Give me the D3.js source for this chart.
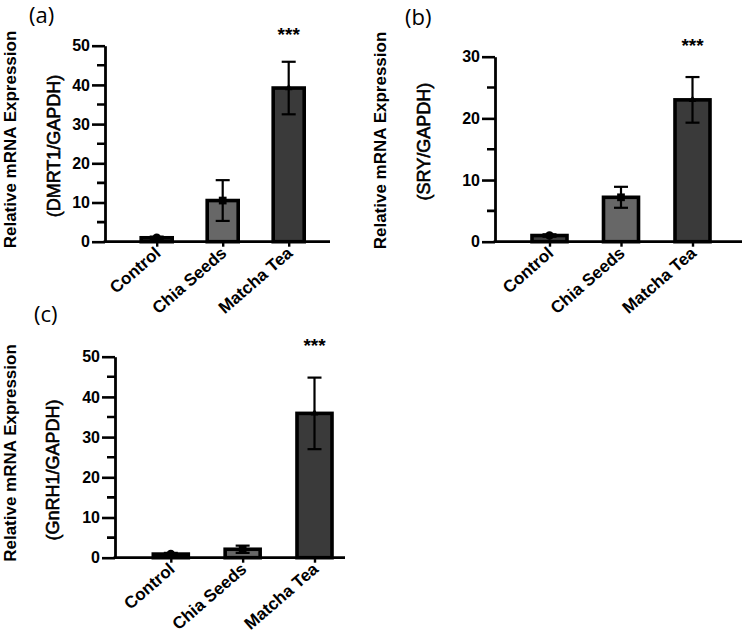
<!DOCTYPE html>
<html>
<head>
<meta charset="utf-8">
<script src="https://cdn.jsdelivr.net/npm/d3@7"></script>
<style>
  body { margin: 0; background: #fff; }
  svg { display: block; }
</style>
</head>
<body>
<div id="d3-container"></div>
<script>
// data
const categories = ["Control", "Chia Seeds", "Matcha Tea"];

const dmrt1Mean = [1.0, 10.5, 39.2];
const dmrt1Err  = [0.3, 5.2, 6.7];

const sryMean = [1.0, 7.2, 23.0];
const sryErr  = [0.2, 1.7, 3.7];

const gnrh1Mean = [0.9, 2.1, 35.9];
const gnrh1Err  = [0.3, 0.9, 8.9];

const ticks50 = [0, 10, 20, 30, 40, 50];
const ticks30 = [0, 10, 20, 30];
const minor50 = [5, 15, 25, 35, 45];
const minor30 = [5, 15, 25];

const fills = ["#3d3d3d", "#676767", "#3a3a3a"];
const markers = [d3.symbolCircle, d3.symbolSquare, d3.symbolTriangle];

const width = 750, height = 633;
const font = "'Liberation Sans', Arial, sans-serif";

const svg = d3.select("#d3-container")
  .append("svg")
  .attr("width", width)
  .attr("height", height);

// layout for each panel (pixel positions)
const panels = [
  { letter: "(a)", letterX: 29, letterY: 23,
    gene: "(DMRT1/GAPDH)", mean: dmrt1Mean, err: dmrt1Err, ticks: ticks50, minor: minor50,
    axisX: 105, y0: 241.7, yTop: 45.7, xEnd: 330, c0: 156.7, c2: 288.7, barW: 31,
    t1X: 16, t1Y: 139.5, t2X: 60, t2Y: 146 },
  { letter: "(b)", letterX: 405, letterY: 25,
    gene: "(SRY/GAPDH)", mean: sryMean, err: sryErr, ticks: ticks30, minor: minor30,
    axisX: 495, y0: 241.7, yTop: 56.7, xEnd: 742, c0: 549.5, c2: 692.5, barW: 35,
    t1X: 386, t1Y: 140.5, t2X: 430, t2Y: 141.7 },
  { letter: "(c)", letterX: 34, letterY: 322,
    gene: "(GnRH1/GAPDH)", mean: gnrh1Mean, err: gnrh1Err, ticks: ticks50, minor: minor50,
    axisX: 115, y0: 557.7, yTop: 356.7, xEnd: 345, c0: 170.8, c2: 314.5, barW: 35,
    t1X: 16, t1Y: 453, t2X: 59, t2Y: 470 }
];

panels.forEach(drawPanel);

function drawPanel(p) {
  const g = svg.append("g");
  const yMax = p.ticks[p.ticks.length - 1];

  const y = d3.scaleLinear().domain([0, yMax]).range([p.y0, p.yTop]);
  const x = d3.scalePoint().domain(categories).range([p.c0, p.c2]);

  const data = categories.map((c, i) => ({ cat: c, mean: p.mean[i], err: p.err[i], i: i }));

  // y axis minor ticks (drawn as a path so they can't get lost)
  const minorPath = d3.path();
  p.minor.forEach(v => {
    minorPath.moveTo(p.axisX - 8, y(v));
    minorPath.lineTo(p.axisX, y(v));
  });
  g.append("path")
    .attr("d", minorPath.toString())
    .attr("fill", "none")
    .attr("stroke", "#000")
    .attr("stroke-width", 2.6);

  // bars
  g.selectAll("rect.bar")
    .data(data)
    .join("rect")
      .attr("class", "bar")
      .attr("x", d => x(d.cat) - p.barW / 2)
      .attr("y", d => y(d.mean))
      .attr("width", p.barW)
      .attr("height", d => p.y0 - y(d.mean))
      .attr("fill", d => fills[d.i])
      .attr("stroke", "#000")
      .attr("stroke-width", 3.6);

  // error bars
  const lo = d => y(Math.max(0, d.mean - d.err));
  const hi = d => y(d.mean + d.err);
  const eb = g.selectAll("g.err")
    .data(data)
    .join("g")
      .attr("class", "err")
      .attr("stroke", "#000")
      .attr("stroke-width", 2.2);
  eb.append("line")
    .attr("x1", d => x(d.cat)).attr("x2", d => x(d.cat))
    .attr("y1", lo).attr("y2", hi);
  eb.append("line")
    .attr("x1", d => x(d.cat) - 7).attr("x2", d => x(d.cat) + 7)
    .attr("y1", hi).attr("y2", hi);
  eb.append("line")
    .attr("x1", d => x(d.cat) - 7).attr("x2", d => x(d.cat) + 7)
    .attr("y1", lo).attr("y2", lo);

  // mean markers
  g.selectAll("path.mk")
    .data(data)
    .join("path")
      .attr("class", "mk")
      .attr("d", d => d3.symbol().type(markers[d.i]).size(d.i === 2 ? 24 : 60)())
      .attr("transform", d => `translate(${x(d.cat)},${y(d.mean)})`)
      .attr("fill", "#000");

  // y axis major ticks
  const yAx = g.append("g")
    .attr("transform", `translate(${p.axisX},0)`)
    .call(d3.axisLeft(y).tickValues(p.ticks).tickSize(13).tickSizeOuter(0).tickPadding(2));
  yAx.select(".domain").attr("stroke-width", 2.8);
  yAx.selectAll("line").attr("stroke-width", 2.6);
  yAx.selectAll("text")
    .attr("font-family", font)
    .attr("font-weight", "bold")
    .attr("font-size", 16)
    .attr("fill", "#000");

  // x axis: line across, small ticks under each bar
  g.append("line")
    .attr("x1", p.axisX - 1.4).attr("x2", p.xEnd)
    .attr("y1", p.y0).attr("y2", p.y0)
    .attr("stroke", "#000").attr("stroke-width", 2.8);
  g.append("g")
    .attr("transform", `translate(0,${p.y0})`)
    .call(d3.axisBottom(x).tickSize(5).tickSizeOuter(0).tickFormat(""))
    .call(a => a.select(".domain").remove())
    .call(a => a.selectAll("line").attr("stroke-width", 2.4));

  g.selectAll("text.xl")
    .data(data)
    .join("text")
      .attr("class", "xl")
      .attr("transform", d => `translate(${x(d.cat) + 5},${p.y0 + 13}) rotate(-41)`)
      .attr("text-anchor", "end")
      .attr("font-family", font)
      .attr("font-weight", "bold")
      .attr("font-size", 17)
      .text(d => d.cat);

  // significance stars over the Matcha Tea bar
  g.append("text")
    .attr("x", x(categories[2]))
    .attr("y", y(yMax) - 5)
    .attr("text-anchor", "middle")
    .attr("font-family", font)
    .attr("font-weight", "bold")
    .attr("font-size", 19)
    .text("***");

  // y titles
  g.append("text")
    .attr("transform", `translate(${p.t1X},${p.t1Y}) rotate(-90)`)
    .attr("text-anchor", "middle")
    .attr("font-family", font)
    .attr("font-weight", "bold")
    .attr("font-size", 17)
    .text("Relative mRNA Expression");
  g.append("text")
    .attr("transform", `translate(${p.t2X},${p.t2Y}) rotate(-90)`)
    .attr("text-anchor", "middle")
    .attr("font-family", font)
    .attr("font-size", 18)
    .attr("stroke", "#000")
    .attr("stroke-width", 0.6)
    .text(p.gene);

  // panel letter
  g.append("text")
    .attr("x", p.letterX)
    .attr("y", p.letterY)
    .attr("font-family", "'Open Sans', 'Noto Sans', sans-serif")
    .attr("font-size", 22)
    .text(p.letter);
}
</script>
</body>
</html>
